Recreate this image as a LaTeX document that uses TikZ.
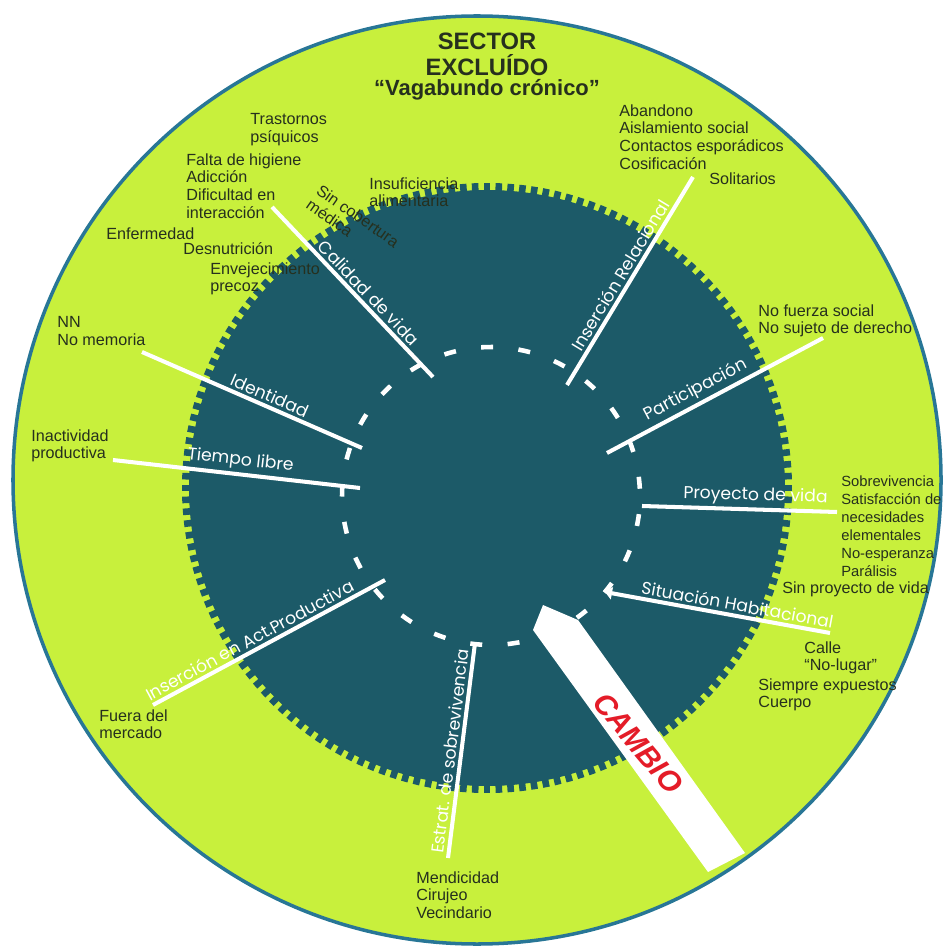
\documentclass[tikz,border=0pt]{standalone}
\usepackage{fontspec}
\setmainfont{Liberation Sans}
\newfontfamily\geofont{Poppins}
\usetikzlibrary{calc,arrows.meta}

\definecolor{lima}{RGB}{200,240,60}
\definecolor{petroleo}{RGB}{28,90,104}
\definecolor{borde}{RGB}{40,118,150}
\definecolor{tinta}{RGB}{38,48,30}
\definecolor{rojo}{RGB}{228,28,40}

\tikzset{
  lista/.style={anchor=north west, inner sep=0pt, align=left, text=tinta,
    font=\fontsize{9.2}{10.2}\selectfont},
  titulo/.style={anchor=base, inner sep=0pt, text=tinta, font=\bfseries\fontsize{13.5}{14}\selectfont},
  eje/.style={draw=white, line width=2.3pt},
  rotulo/.style={sloped, above, inner sep=1.5pt, text=white,
    font=\geofont\fontsize{9.8}{11}\selectfont},
  diente/.style={fill=petroleo},
  marca/.style={draw=white, line width=2.6pt},
}

\begin{document}
\begin{tikzpicture}[x=0.02cm, y=-0.02cm]
    \useasboundingbox (0,0) rectangle (944,952);

    % 外側の円
    \coordinate (oc) at (477,480);
    \fill[lima] (oc) circle (464);
    \draw[borde, line width=2pt] (oc) circle (464);

    % 歯車のような内側の円
    \coordinate (gc) at (487,488);
    \fill[petroleo] (gc) circle (298);
    \foreach \i in {0,...,159}
        \fill[diente, rotate around={\i*2.25:(gc)}] ($(gc)+(-3.3,-297)$) rectangle ($(gc)+(3.3,-305)$);

    % 破線の円
    \coordinate (dc) at (491,496);
    \foreach \i in {0,...,24}
        \draw[marca] ($(dc)+({-93.8+\i*14.4}:149)$) arc[start angle={-93.8+\i*14.4}, delta angle=4.6, radius=149];

    % 放射状の線の端点
    \coordinate (cv-in) at (433,377);  \coordinate (cv-out) at (272,207);
    \coordinate (ir-in) at (567,385);  \coordinate (ir-out) at (693,177);
    \coordinate (pa-in) at (607,453);  \coordinate (pa-out) at (823,338);
    \coordinate (pv-in) at (642,506);  \coordinate (pv-out) at (837,512);
    \coordinate (sh-in) at (605,592);  \coordinate (sh-out) at (830,633);
    \coordinate (es-in) at (475,643);  \coordinate (es-out) at (448,858);
    \coordinate (ia-in) at (385,580);  \coordinate (ia-out) at (153,705);
    \coordinate (tl-in) at (360,488);  \coordinate (tl-out) at (113,460);
    \coordinate (id-in) at (362,448);  \coordinate (id-out) at (142,352);

    % 放射状の線とラベル
    \draw[eje] (cv-in) -- node[rotulo, pos=0.45] {Calidad de vida} (cv-out);
    \draw[eje] (ir-in) -- node[rotulo, pos=0.5] {Inserción Relacional} (ir-out);
    \draw[eje] (pa-in) -- node[rotulo, pos=0.44] {Participación} (pa-out);
    \draw[eje] (pv-in) -- node[rotulo, pos=0.58] {Proyecto de vida} (pv-out);
    \draw[eje, {Triangle[length=4pt,width=7pt]}-] (sh-in) -- node[rotulo, pos=0.58] {Situación Habitacional} (sh-out);
    \draw[eje] (es-in) -- node[rotulo, pos=0.51] {Estrat. de sobrevivencia} (es-out);
    \draw[eje] (ia-in) -- node[rotulo, pos=0.56] {Inserción en Act.Productiva} (ia-out);
    \draw[eje] (tl-in) -- node[rotulo, pos=0.49] {Tiempo libre} (tl-out);
    \draw[eje] (id-in) -- node[rotulo, pos=0.44] {Identidad} (id-out);

    % 矢印「CAMBIO」
    \coordinate (cb-l) at (533,630);
    \coordinate (cb-t) at (543,605);
    \coordinate (cb-r) at (578,620);
    \coordinate (cb-br) at (745,853);
    \coordinate (cb-bl) at (708,872);
    \fill[white] (cb-l) -- (cb-t) -- (cb-r) -- (cb-br) -- (cb-bl) -- cycle;
    \node[rotate=-50, text=rojo, font=\bfseries\itshape\fontsize{17}{18}\selectfont] (cambio) at (638,743) {CAMBIO};

    % タイトル
    \node[titulo] (sector) at (487,50) {SECTOR};
    \node[titulo] (excluido) at (487,76) {EXCLUÍDO};
    \node[titulo, font=\bfseries\fontsize{12.5}{13}\selectfont] (vagabundo) at (487,96) {“Vagabundo crónico”};

    % 左上の項目
    \node[lista] (trastornos) at (250,113) {Trastornos\\psíquicos};
    \node[lista] (higiene) at (186,153) {Falta de higiene\\Adicción\\Dificultad en\\interacción};
    \node[lista] (enfermedad) at (106,227) {Enfermedad};
    \node[lista] (desnutricion) at (183,242) {Desnutrición};
    \node[lista] (envejecimiento) at (210,262) {Envejecimiento\\precoz};
    \node[lista, rotate=-35] (cobertura) at (322,183) {Sin cobertura\\médica};
    \node[lista] (insuficiencia) at (369,177) {Insuficiencia\\alimentaria};

    % 右側の項目
    \node[lista] (abandono) at (619,104) {Abandono\\Aislamiento social\\Contactos esporádicos\\Cosificación};
    \node[lista] (solitarios) at (709,172) {Solitarios};
    \node[lista] (fuerza) at (758,304) {No fuerza social\\No sujeto de derecho};
    \node[lista, font=\fontsize{8.4}{10.3}\selectfont] (sobrevivencia) at (841,475)
        {Sobrevivencia\\Satisfacción de\\necesidades\\elementales\\No-esperanza\\Parálisis};
    \node[lista] (sinproyecto) at (782,581) {Sin proyecto de vida};
    \node[lista] (calle) at (804,641) {Calle\\“No-lugar”};
    \node[lista] (expuestos) at (758,678) {Siempre expuestos\\Cuerpo};

    % 左側と下の項目
    \node[lista] (nn) at (57,316) {NN\\No memoria};
    \node[lista] (inactividad) at (31,429) {Inactividad\\productiva};
    \node[lista] (fuera) at (99,709) {Fuera del\\mercado};
    \node[lista] (mendicidad) at (416,871) {Mendicidad\\Cirujeo\\Vecindario};
\end{tikzpicture}
\end{document}
